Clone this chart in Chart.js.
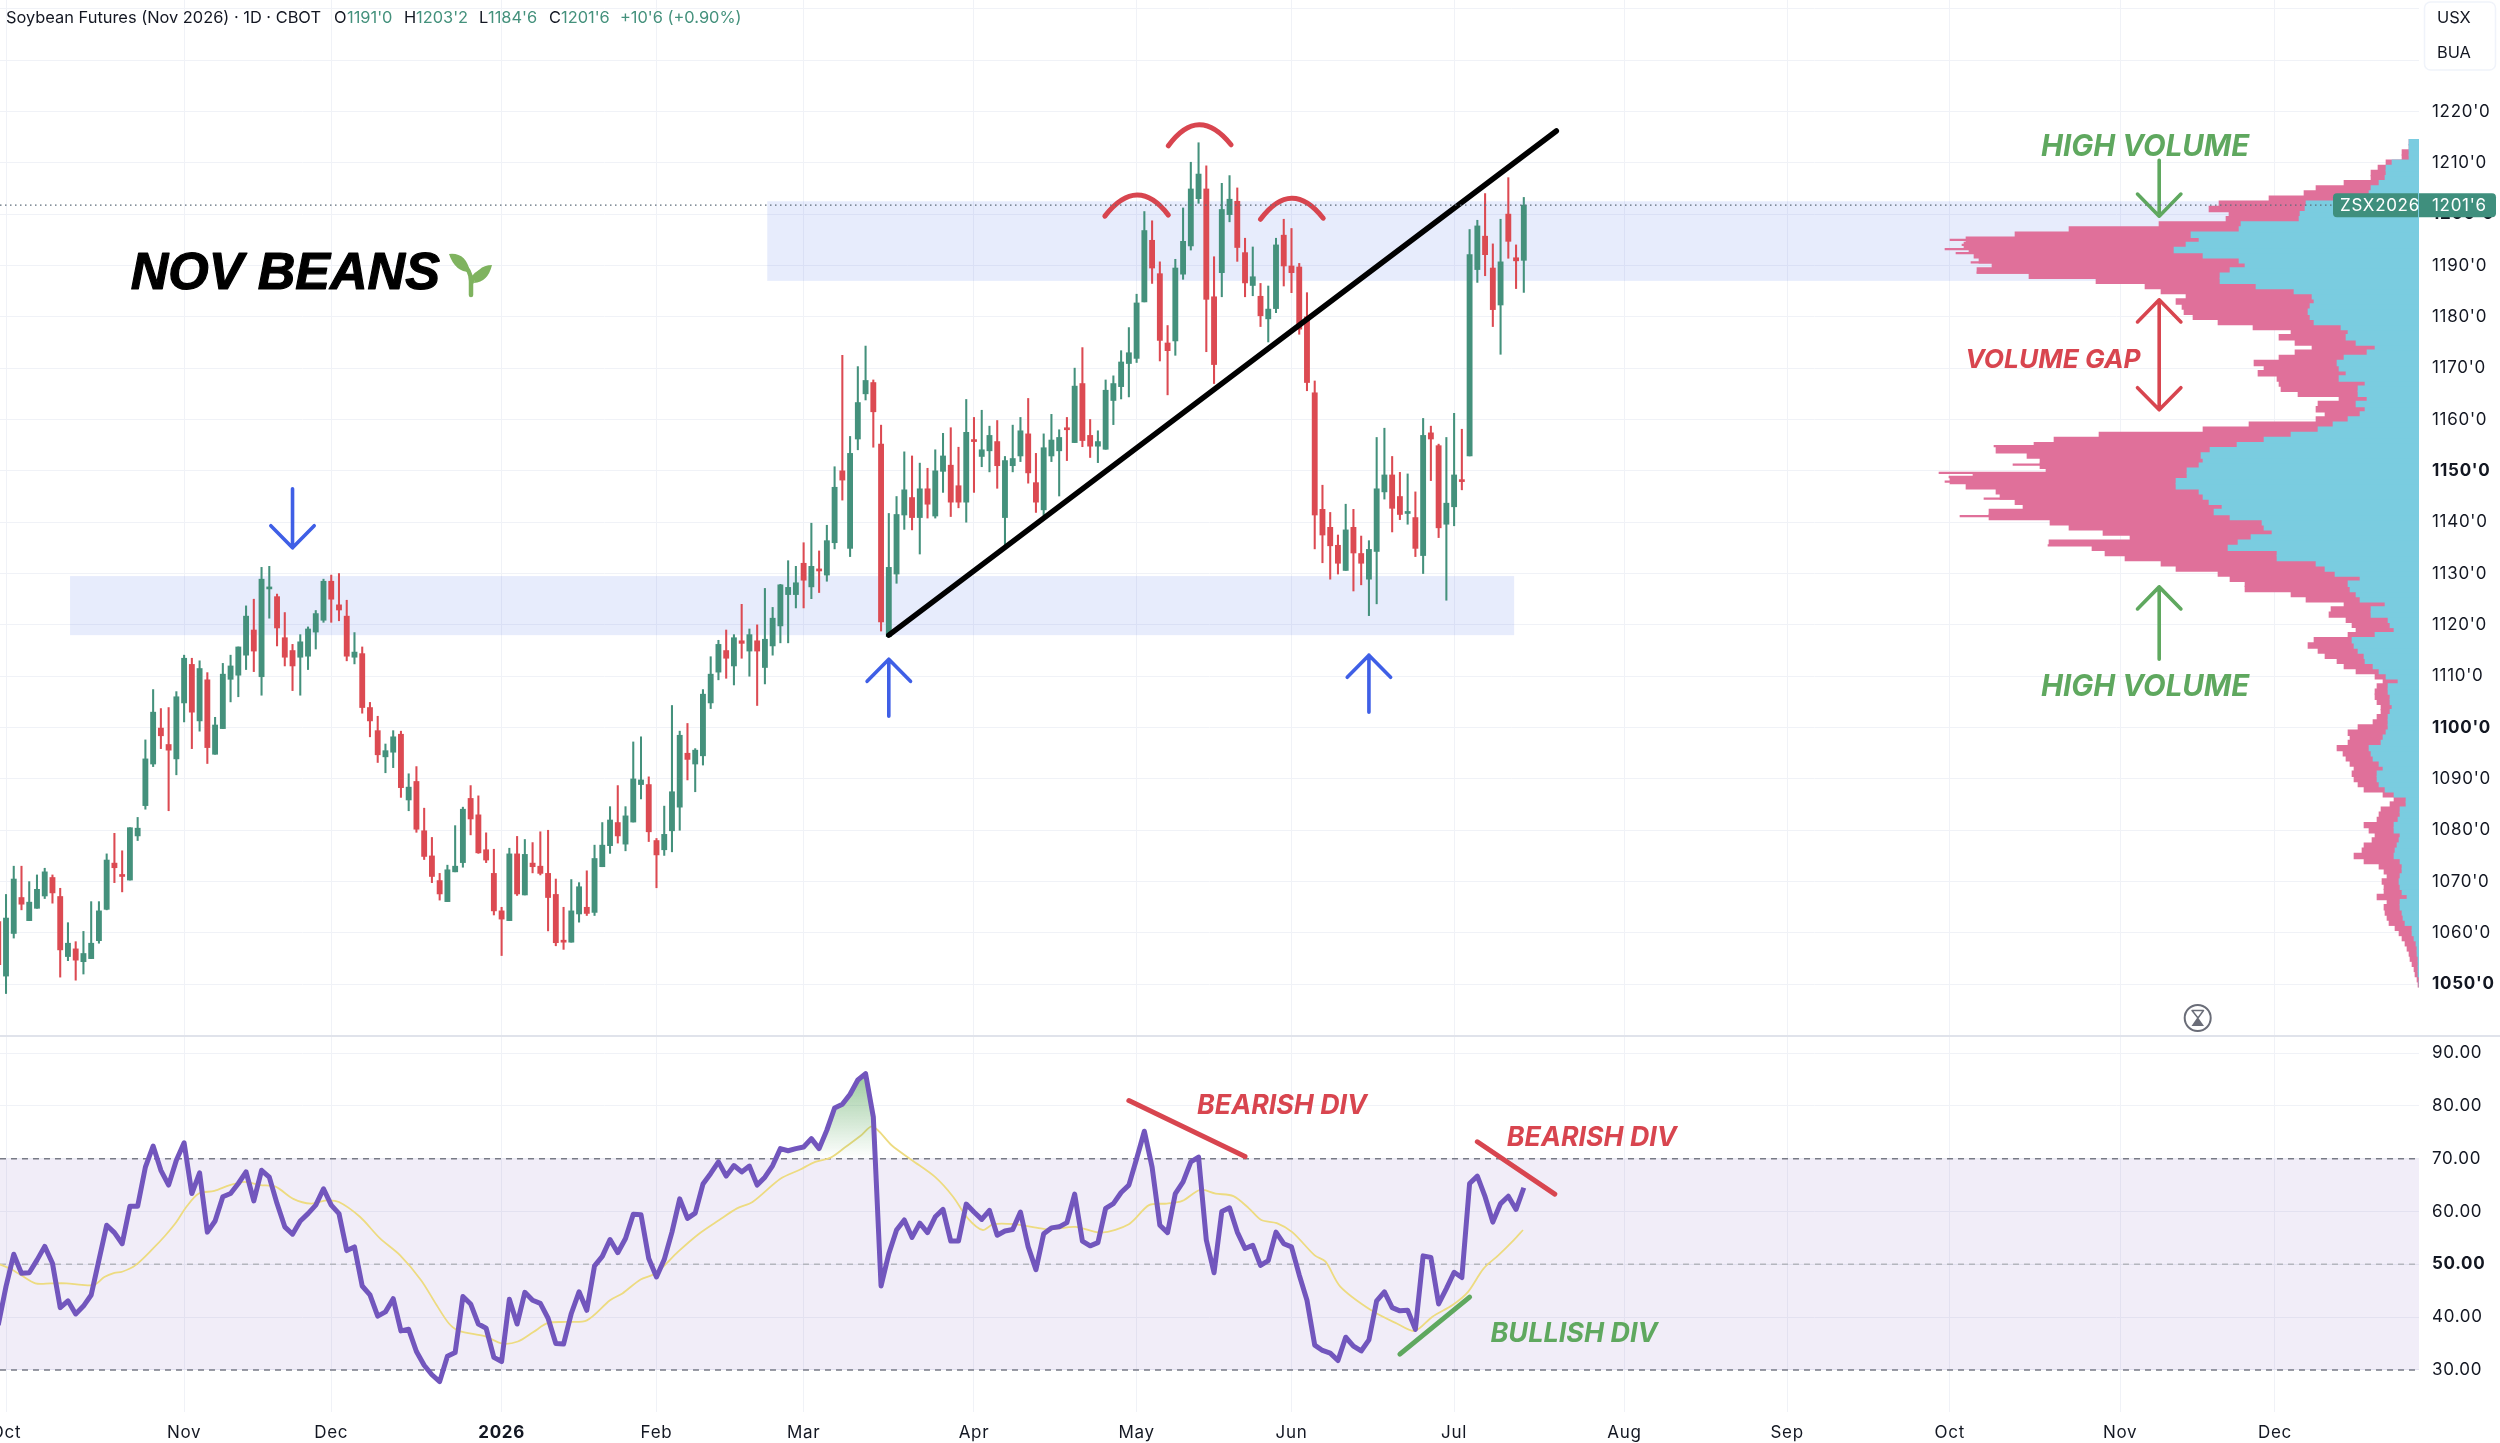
<!DOCTYPE html>
<html>
<head>
<meta charset="utf-8">
<title>Soybean Futures (Nov 2026)</title>
<script src="https://cdn.jsdelivr.net/npm/chart.js@4"></script>
<style>
  html, body { margin: 0; padding: 0; background: #fff; }
  canvas { display: block; }
</style>
</head>
<body>
<canvas id="grafico" width="2500" height="1443"></canvas>
<script>
// daily candles, first entry is the session before 1 Oct (bar -1)
const openPrices = [1062.2,
  1051.6,1059.9,1066.9,1062.4,1064.8,1067.2,1070.8,1067.1,1055.4,1056.9,
  1054.4,1055,1058.5,1064.6,1073.6,1071.1,1070.3,1078.9,1084.8,1092.9,
  1099.9,1096.7,1093.9,1104.8,1112.3,1101.3,1109.3,1094.8,1099.8,1109.4,
  1110.2,1114.1,1119,1109.9,1127,1125.5,1117.5,1115,1113.7,1113.9,
  1118.6,1120.9,1128.5,1123.9,1121.7,1113.7,1114.4,1103.9,1099.4,1094.3,
  1095.2,1098.7,1085.9,1089.5,1079.9,1075,1070.2,1066.1,1071.9,1073.7,
  1086.2,1083,1076.2,1071.6,1064.3,1062.4,1075.4,1067.4,1073.6,1073,
  1071.6,1067.5,1058.4,1058.2,1063.7,1065,1064,1072.9,1077,1081.5,
  1077.3,1081.6,1088.9,1088.9,1078,1076.2,1079.9,1084.5,1095,1092.9,
  1094.5,1104.8,1110.8,1115,1112,1116.9,1114.9,1116.9,1111.7,1115.9,
  1119.8,1125.9,1125.9,1132,1127.4,1130.9,1129.7,1136,1150,1134.9,
  1156.2,1165,1167.2,1155.2,1117.7,1129.9,1141.4,1144.8,1140.9,1146.5,
  1141.2,1149.9,1151.1,1147.1,1143.9,1155.9,1152.8,1153.9,1155.7,1140.9,
  1151,1152.9,1157.2,1147.7,1142.4,1152.9,1153.9,1158.1,1155.5,1167,
  1156.9,1154.8,1154.2,1163.7,1166.4,1170.9,1171.9,1182.9,1194.9,1188.4,
  1174.9,1175.3,1188.3,1193.8,1203,1204.9,1183.9,1188.6,1199.9,1202.5,
  1192.5,1186.1,1184,1179.6,1181.6,1195.9,1189.9,1189.7,1180,1165.2,
  1142.5,1139,1135.5,1130.6,1139,1133.9,1128.9,1134.3,1145.9,1149.2,
  1145,1141.7,1140.9,1133.5,1157.4,1154.9,1139.6,1143,1148.1,1152.9,
  1189.2,1195.7,1189.5,1182.3,1200,1191.5,1191];
const highPrices = [1065,
  1067.5,1073,1073,1070,1071.3,1072.6,1071.3,1068.7,1062,1058.3,
  1060.3,1066.1,1066.1,1075.4,1079.4,1076,1080.5,1082.5,1097.6,1107.4,
  1103.7,1103.9,1107,1114.1,1113.5,1113,1110.7,1102,1112.5,1114.1,
  1115.7,1123.7,1125,1131.2,1131.4,1126,1122.4,1116.2,1118.1,1119.6,
  1122.8,1128.9,1129.7,1130,1124.8,1118.5,1115.7,1104.9,1102.2,1096.8,
  1099.4,1099.3,1091,1092.4,1084.3,1078.6,1071.6,1073.2,1080.9,1084.5,
  1088.7,1086.7,1079.5,1076.3,1065,1076.5,1078.8,1078.2,1077.6,1079.7,
  1080,1070.5,1065,1070.4,1069.8,1072.1,1077.1,1081.5,1084.6,1088.7,
  1084.6,1097.2,1098.2,1090.4,1078.4,1084.7,1104.3,1099.3,1100.8,1095.9,
  1107.4,1113.8,1117,1119,1118.1,1124,1119.2,1120,1127.1,1123.4,
  1127.9,1132.5,1131.4,1136,1139.8,1134.4,1139.4,1150.8,1172.5,1156.7,
  1170.3,1174.3,1167.7,1158.9,1141.7,1145,1153.7,1152.9,1151.5,1150.5,
  1154.1,1157.3,1158.4,1154.6,1163.9,1160.4,1161.8,1158.7,1159.8,1152.8,
  1158.9,1160.4,1164.1,1153.4,1157.2,1161,1158,1160.4,1170,1174,
  1160,1157.8,1167.7,1168.5,1173.4,1177.9,1184.4,1200.5,1198.7,1190.7,
  1178.3,1191.2,1201.2,1210.1,1213.9,1209.4,1191.7,1206,1207.5,1205.1,
  1195.3,1193.6,1186.5,1186,1195.3,1199,1197.2,1190.4,1184.7,1167.5,
  1147.2,1141.9,1137.5,1143.5,1142.5,1137.3,1136.4,1156.5,1158.3,1152.8,
  1149.7,1149.4,1145.9,1160.2,1158.7,1155.2,1156.5,1161.2,1158.1,1197,
  1198.8,1204,1194.2,1199,1207.1,1194,1203.25];
const lowPrices = [1052,
  1048.2,1059,1064.5,1062.4,1064.8,1066.7,1065.8,1051.4,1054.6,1050.8,
  1052,1055,1058,1064.5,1069.8,1068,1070.3,1078,1084.1,1092.4,
  1095.9,1083.8,1090.8,1101.1,1095.9,1099.3,1093,1094.8,1099.8,1105,
  1106,1111.3,1110.9,1106.3,1121.3,1115.9,1112,1107.2,1106.3,1111.3,
  1115.3,1120.5,1120.5,1120.8,1113,1112.4,1102.8,1098.2,1093.2,1091.2,
  1092.2,1086.4,1083.8,1079.6,1074.3,1069.8,1066.4,1066.1,1071.9,1072.8,
  1079.1,1075.5,1073.7,1063.5,1055.6,1062.4,1067.3,1067.4,1071.7,1071.3,
  1060.4,1057.5,1056.8,1058.2,1062.1,1063.4,1063.4,1072.9,1075.5,1077.5,
  1076,1081.6,1086.1,1077.8,1068.8,1075.1,1075.8,1080,1089.8,1087.5,
  1092.7,1103.7,1109.3,1109.6,1108.3,1113.5,1110,1104.3,1108.5,1114.1,
  1116.5,1116.5,1123.3,1123.3,1125.1,1126.3,1128.5,1134.8,1144.3,1133.3,
  1154.1,1163.8,1154.6,1118.8,1117.7,1128.1,1138.6,1138.5,1133.8,1140.8,
  1140.8,1145.8,1141.1,1142.8,1140,1145.8,1150.8,1149.8,1146.6,1135,
  1149.8,1151.8,1147.6,1141.9,1141.1,1151.8,1145.1,1152,1155.5,1154.7,
  1152.6,1151.6,1154.2,1159,1164,1164.4,1171.1,1182.9,1186.5,1171.4,
  1164.8,1172.5,1187.3,1193,1202.1,1173.2,1167,1183.9,1198.5,1190.8,
  1183.9,1184.1,1178.1,1175.1,1180.8,1186,1184.7,1176.6,1165.6,1134.8,
  1132.1,1128.9,1129.9,1130.6,1126.6,1127.8,1121.8,1124.1,1144.5,1138.1,
  1140.5,1139.6,1133.3,1130,1148.1,1137,1124.8,1139.3,1146.3,1152.9,
  1186.7,1188,1178.1,1172.7,1191.4,1185.5,1184.75];
const closePrices = [1053.8,
  1062.9,1070.5,1065.6,1066,1068.5,1071.9,1067.8,1056.7,1058,1054.7,
  1056,1058,1064.3,1074.2,1072.7,1071,1080.5,1080.4,1093.9,1103,
  1098.4,1095.6,1106,1113.5,1103,1111.5,1096.1,1100.5,1110.4,1112,
  1115.7,1121.7,1114.9,1128.9,1127.1,1119.4,1113.7,1112,1116.7,1119.2,
  1122.2,1128.5,1125,1122.9,1113.9,1114.7,1103.9,1101.3,1094.7,1095.5,
  1098.2,1088.3,1088.4,1080.2,1074.9,1071,1067.6,1072.3,1073,1084.1,
  1082.2,1075.6,1074.2,1064.3,1062.7,1075.4,1067.6,1075.3,1072.9,1071.6,
  1066.9,1058.1,1058.2,1064.3,1069,1063.8,1074.5,1077.1,1082,1078.9,
  1082.8,1090,1089.8,1079.7,1075.2,1079.2,1087.5,1098.5,1093.8,1095.6,
  1106.5,1110.4,1116.2,1113.5,1117.5,1116.4,1118.1,1114.9,1117.2,1121.3,
  1127.8,1127.3,1128.2,1128.7,1131.4,1130.5,1136.4,1146.8,1148.2,1153.4,
  1163.3,1167.6,1161.5,1120.6,1131.2,1141.5,1146.3,1140.9,1146.5,1143.5,
  1150,1152.9,1143.9,1143.9,1157.5,1155.7,1154.1,1156.9,1151,1152,
  1152.4,1157.8,1149.6,1143.9,1154.5,1156,1156.5,1158,1166.5,1155.9,
  1154.8,1155.7,1165.7,1167,1171.2,1173,1182.7,1196.8,1189.5,1175.4,
  1173.4,1189.5,1194.7,1204.9,1207.8,1183.4,1170.7,1200.9,1202.9,1193.5,
  1186.6,1187.8,1180.2,1181.5,1194,1189.9,1188.6,1177.6,1167.2,1141.4,
  1137.5,1135.4,1132,1138.5,1134,1132,1134.7,1146.5,1149.2,1142.7,
  1141.5,1141.9,1134.9,1156.9,1156.2,1138.9,1143.7,1149.2,1147.9,1192.1,
  1197.7,1192.1,1181.4,1190.7,1194.7,1190.9,1201.75];

// RSI, same bars as the candles
const rsiValues = [38.5,
  45.8,51.9,48.3,48.4,50.8,53.4,50.2,41.8,43.1,40.6,
  42.1,44.2,50.8,57.4,56,53.9,61,61,68.4,72.4,
  67.8,65,69.7,73,63.4,67.3,56.1,58.2,62.8,63.4,
  65.3,67.5,62,67.8,66.5,61.5,57.1,55.7,58.2,59.6,
  61.2,64.3,61.2,59.6,52.6,53.3,45.9,44.2,40.2,41,
  43.5,37.4,37.7,33.5,30.9,29.1,27.8,32.6,33.3,43.9,
  42.5,38.7,37.9,32.4,31.6,43.4,38.7,44.7,43.2,42.6,
  39.8,35,34.9,40.7,44.8,41.3,49.7,51.5,54.7,52.2,
  54.9,59.5,59.4,51.1,47.6,50.9,56.1,62.4,58.7,59.7,
  65.2,67.2,69.4,66.7,68.7,67.5,68.6,65,66.5,68.7,
  71.9,71.5,71.9,72.2,73.8,71.9,75.4,79.6,80.3,82.2,
  84.9,86.1,77.9,45.9,52,56.5,58.4,55.1,57.8,56,
  59,60.4,54.4,54.4,61.4,59.9,58.5,60.2,55.5,56.3,
  56.6,59.9,53.3,49,55.8,56.9,57.1,57.9,63.3,54.4,
  53.5,54.1,60.6,61.5,63.6,65,70,75.2,68.4,57.4,
  56,63.4,65.6,69.4,70.3,54.6,48.4,60,60.7,56.1,
  53,53.6,49.8,50.7,56.1,53.9,53.3,48,43.2,34.7,
  33.7,33.2,31.8,36.2,34.5,33.6,35.7,43.1,44.8,41.8,
  41.2,41.3,37.7,51.6,51.3,42.5,45.4,48.5,47.5,65.3,
  66.7,62.8,58,61.5,62.9,60.4,64.5];

// RSI moving average, read at the bends of the yellow line
const rsiMaBars = [-0.8,0.5,1.9,3.8,5.8,7.8,9.8,11.4,12.7,14,15,16.7,19,20.6,22,23.3,24.9,26.9,28.9,30.8,
  32.8,34.8,37.1,39.4,41.4,43,45.7,48.3,50.9,53.6,55.6,57.2,58.5,61.8,64.1,66.1,68.1,70,72.3,75,
  78,79.6,81.9,83.9,86.8,89.5,92.1,94.4,96.4,100,102.5,104.5,106.5,108.4,110.4,111.9,114.4,117,120,122.3,
  124.2,126.1,127.5,130.2,132.8,134.8,138.1,141.4,145,147.6,149.9,151.9,154.2,156.2,158.5,160.5,162.1,164.1,166.1,169,
  170.4,172.3,176.3,179.6,181.9,184.2,186.8,188.8,190.8,192.7,194.7,195.9];
const rsiMaValues = [50,49.2,48,46.4,46.4,46.4,46.1,46.1,47.6,48.4,48.6,49.8,53,55.5,58,60.9,63.4,63.9,65,65.6,
  65,64.7,62.4,61.5,62.1,61.8,59,54.9,51.7,47,42.3,38.8,37.4,36.4,35,35.4,37.2,38.9,39.1,39.4,
  43.2,44.5,47.1,48.3,52.4,55.8,58.4,60.6,61.8,66.2,67.9,69.4,70.2,72.2,74.4,76.1,72.5,69.7,66.5,62.8,
  58.7,56.5,57.6,57.6,57,56.6,57.1,56,57.6,61.2,61.5,62,64.1,63.4,62.9,60.6,58.4,57.8,56.1,51.7,
  50.5,45.8,41.3,38.8,37.4,40.1,42.3,44.8,49.2,51.7,54.6,56.5];

// volume profile, one row per cent from 1050 up
const profileFirstPrice = 1050;
const profileBuy = [0,0,1,1,1,1,2,2,3,5,7,7,14,16,17,19,19,12,17,19,
  20,19,17,17,19,25,24,22,20,19,25,25,21,19,19,13,13,25,34,40,
  42,42,36,40,46,48,50,38,36,33,31,31,31,29,27,29,29,31,31,21,
  33,40,46,54,55,61,65,67,44,25,29,31,48,48,34,59,63,69,71,59,
  84,94,103,142,142,191,181,168,147,155,157,189,205,197,210,216,220,243,243,232,
  232,220,216,218,209,182,155,128,101,86,71,59,54,63,52,61,61,54,80,73,
  80,82,75,52,44,63,73,71,78,105,109,111,109,105,107,125,163,199,199,189,
  174,180,216,245,233,220,228,180,178,120,119,114,113,52,50,48,40,34,33,33,
  27,10,10,10,10];
const profileTotal = [1,2,4,5,7,9,10,12,14,17,20,24,30,32,34,35,32,42,35,35,
  37,32,35,40,55,65,57,55,47,44,50,55,42,40,38,29,25,36,55,61,
  65,67,65,69,73,76,82,71,69,71,61,46,42,38,38,42,44,44,42,36,
  44,63,75,82,94,101,111,105,71,63,67,73,90,88,75,113,128,174,174,189,
  201,243,258,294,314,327,370,289,316,350,369,430,430,396,404,419,423,453,469,446,
  373,379,379,392,423,385,365,320,216,170,103,94,103,101,80,121,138,140,142,161,
  155,165,140,124,107,124,140,128,166,201,226,235,237,243,233,258,274,323,390,442,
  427,440,445,450,455,453,404,350,260,193,190,210,200,150,115,103,75,48,48,41,
  33,17,17,10,10];
// thin spikes that stick out of the profile rows
const spikePrices = [1195,1194,1193.2,1192.4,1190.6,1188.6,1154.8,1151.2,1149.6,1148.8,1147.9,1146.8,1144.6,1141.2,1135.5];
const spikeTotals = [469,457,474,463,448,442,425,406,480,470,474,451,435,459,371];

const priceTicks = [1050,1060,1070,1080,1090,1100,1110,1120,1130,1140,1150,1160,1170,1180,1190,1200,1210,1220,1230,1240];
const priceTicksBold = [1050,1100,1150,1200];
const rsiTicks = [30,40,50,60,70,80,90];
const monthBars = [0,23,42,64,84,103,125,146,166,187,209,230,251,273,293];
const monthLabels = ['Oct','Nov','Dec','2026','Feb','Mar','Apr','May','Jun','Jul','Aug','Sep','Oct','Nov','Dec'];

const verde = '#44917c', rojo = '#dc4a52', azul = '#3f5fe6';
const notaVerde = '#5fa85f', notaRoja = '#d8454f';
const fuente = 'Inter, "Noto Sans", sans-serif';

const bars = openPrices.map((_, i) => i - 1);
const barColor = i => closePrices[i] >= openPrices[i] ? verde : rojo;
const priceLabel = v => Math.floor(v) + "'" + Math.round((v - Math.floor(v)) * 8);
const tickFont = isBold => c => ({ family: fuente, size: 17, weight: c.tick && isBold(c.tick.value) ? '700' : '400' });
const sinMargen = s => { s.width = 81; s.paddingTop = 0; s.paddingBottom = 0; };

// zones and drawn marks, in bar / price (or bar / rsi) units
const zones = [
  { from: 98.3, to: 320, top: 1202.5, bottom: 1187 },
  { from: 8.27, to: 194.75, top: 1129.5, bottom: 1118 }
];
const trendLines = [
  { axis: 'y', color: '#000', width: 5.5, a: [114, 1118], b: [200.2, 1216.2] },
  { axis: 'rsi', color: notaRoja, width: 5, a: [145, 81], b: [160, 70.4] },
  { axis: 'rsi', color: notaRoja, width: 5, a: [190, 73.2], b: [200, 63.3] },
  { axis: 'rsi', color: notaVerde, width: 5, a: [180, 33], b: [189, 43.8] }
];
const arcs = [
  { a: [141.9, 1199.6], top: [146.1, 1203.7], b: [150.1, 1199.8] },
  { a: [150.1, 1213.3], top: [154, 1217.4], b: [158.2, 1213.5] },
  { a: [162, 1199], top: [166, 1203.1], b: [170.1, 1199.2] }
];
const arrows = [
  { bar: 37, tip: 1135, tail: 1146.5, color: azul },
  { bar: 114, tip: 1113.3, tail: 1102.2, color: azul },
  { bar: 176, tip: 1114.1, tail: 1103, color: azul },
  { bar: 278.05, tip: 1199.6, tail: 1210.5, color: notaVerde },
  { bar: 278.05, tip: 1127.4, tail: 1113.3, color: notaVerde },
  { bar: 278.05, tip: 1183.3, tail: 1161.9, color: notaRoja, both: true }
];
const notes = [
  { text: 'NOV BEANS', bar: 16.1, val: 1188.2, axis: 'y', color: '#000', font: 'italic 700 52px "Liberation Sans"', heavy: true },
  { text: 'HIGH VOLUME', bar: 262.8, val: 1213, axis: 'y', color: notaVerde, font: 'italic 700 29.4px ' + fuente },
  { text: 'HIGH VOLUME', bar: 262.8, val: 1107.9, axis: 'y', color: notaVerde, font: 'italic 700 29.4px ' + fuente },
  { text: 'VOLUME GAP', bar: 253, val: 1171.6, axis: 'y', color: notaRoja, font: 'italic 700 26.3px ' + fuente },
  { text: 'BEARISH DIV', bar: 153.8, val: 80, axis: 'rsi', color: notaRoja, font: 'italic 700 26.8px ' + fuente },
  { text: 'BEARISH DIV', bar: 193.8, val: 73.9, axis: 'rsi', color: notaRoja, font: 'italic 700 26.8px ' + fuente },
  { text: 'BULLISH DIV', bar: 191.7, val: 36.8, axis: 'rsi', color: notaVerde, font: 'italic 700 27px ' + fuente }
];
const headerParts = [
  { text: "Soybean Futures (Nov 2026) · 1D · CBOT", x: 6, color: '#131722' },
  { text: 'O', x: 334, color: '#131722' }, { text: "1191'0", x: 347, color: verde },
  { text: 'H', x: 404, color: '#131722' }, { text: "1203'2", x: 416, color: verde },
  { text: 'L', x: 479, color: '#131722' }, { text: "1184'6", x: 488, color: verde },
  { text: 'C', x: 549, color: '#131722' }, { text: "1201'6", x: 561, color: verde },
  { text: "+10'6 (+0.90%)", x: 620, color: verde }
];

// zonas y banda del RSI, debajo de las velas
const fondo = {
  id: 'fondo',
  beforeDraw(chart) {
    chart.ctx.letterSpacing = '0.7px';
  },
  beforeDatasetsDraw(chart) {
    const { ctx, chartArea, scales } = chart;
    const { x, y, rsi } = scales;
    ctx.save();
    ctx.fillStyle = 'rgba(61,105,235,0.125)';
    zones.forEach(z => {
      ctx.fillRect(x.getPixelForValue(z.from), y.getPixelForValue(z.top),
        Math.min(x.getPixelForValue(z.to), chartArea.right) - x.getPixelForValue(z.from),
        y.getPixelForValue(z.bottom) - y.getPixelForValue(z.top));
    });
    ctx.fillStyle = 'rgba(126,87,194,0.11)';
    ctx.fillRect(0, rsi.getPixelForValue(70), chartArea.right, rsi.getPixelForValue(30) - rsi.getPixelForValue(70));
    ctx.lineWidth = 1.5;
    ctx.setLineDash([6, 5]);
    [[70, '#787b86'], [50, '#b4b6be'], [30, '#787b86']].forEach(([v, c]) => {
      ctx.strokeStyle = c;
      ctx.beginPath();
      ctx.moveTo(0, rsi.getPixelForValue(v));
      ctx.lineTo(chartArea.right, rsi.getPixelForValue(v));
      ctx.stroke();
    });
    ctx.restore();
  }
};

function flecha(ctx, x, y, tip, tail, both) {
  const head = 4.3, half = 21.7;
  const dir = tail > tip ? 1 : -1;
  const top = v => y.getPixelForValue(v);
  const cab = t => {
    ctx.moveTo(x - half, top(t + dir * head));
    ctx.lineTo(x, top(t));
    ctx.lineTo(x + half, top(t + dir * head));
  };
  ctx.beginPath();
  ctx.moveTo(x, top(tip));
  ctx.lineTo(x, top(tail));
  cab(tip);
  if (both) {
    ctx.moveTo(x - half, top(tail - dir * head));
    ctx.lineTo(x, top(tail));
    ctx.lineTo(x + half, top(tail - dir * head));
  }
  ctx.stroke();
}

// dibujos y textos encima de todo
const notas = {
  id: 'notas',
  afterLayout(chart) {
    const rsi = chart.scales.rsi;
    const g = chart.ctx.createLinearGradient(0, rsi.getPixelForValue(86), 0, rsi.getPixelForValue(70));
    g.addColorStop(0, 'rgba(76,160,80,0.55)');
    g.addColorStop(1, 'rgba(76,160,80,0)');
    chart.data.datasets[0].fill.above = g;
  },
  afterDatasetsDraw(chart) {
    const { ctx, chartArea, scales } = chart;
    const { x, y } = scales;
    ctx.save();
    ctx.letterSpacing = '0px';
    ctx.lineCap = 'round';
    ctx.lineJoin = 'round';

    trendLines.forEach(t => {
      const s = scales[t.axis];
      ctx.strokeStyle = t.color;
      ctx.lineWidth = t.width;
      ctx.beginPath();
      ctx.moveTo(x.getPixelForValue(t.a[0]), s.getPixelForValue(t.a[1]));
      ctx.lineTo(x.getPixelForValue(t.b[0]), s.getPixelForValue(t.b[1]));
      ctx.stroke();
    });

    ctx.strokeStyle = notaRoja;
    ctx.lineWidth = 5;
    arcs.forEach(a => {
      const ax = x.getPixelForValue(a.a[0]), ay = y.getPixelForValue(a.a[1]);
      const bx = x.getPixelForValue(a.b[0]), by = y.getPixelForValue(a.b[1]);
      const ty = y.getPixelForValue(a.top[1]), tx = x.getPixelForValue(a.top[0]);
      ctx.beginPath();
      ctx.moveTo(ax, ay);
      ctx.quadraticCurveTo(tx, 2 * ty - (ay + by) / 2, bx, by);
      ctx.stroke();
    });

    ctx.lineWidth = 3.6;
    arrows.forEach(f => {
      ctx.strokeStyle = f.color;
      flecha(ctx, x.getPixelForValue(f.bar), y, f.tip, f.tail, f.both);
    });

    // brote junto al titulo
    ctx.fillStyle = ctx.strokeStyle = '#7fb35f';
    ctx.lineWidth = 4.5;
    ctx.beginPath();
    ctx.moveTo(471, 295);
    ctx.lineTo(471, 281);
    ctx.quadraticCurveTo(471, 270, 462, 264);
    ctx.moveTo(471, 284);
    ctx.quadraticCurveTo(473, 276, 480, 272);
    ctx.stroke();
    ctx.beginPath();
    ctx.moveTo(449, 254);
    ctx.quadraticCurveTo(466, 252, 470, 272);
    ctx.quadraticCurveTo(455, 272, 449, 254);
    ctx.moveTo(492, 265);
    ctx.quadraticCurveTo(476, 265, 474, 283);
    ctx.quadraticCurveTo(488, 282, 492, 265);
    ctx.fill();

    ctx.textBaseline = 'middle';
    ctx.textAlign = 'left';
    notes.forEach(n => {
      ctx.fillStyle = n.color;
      ctx.font = n.font;
      const tx = x.getPixelForValue(n.bar), ty = scales[n.axis].getPixelForValue(n.val);
      if (n.heavy) {
        ctx.strokeStyle = n.color;
        ctx.lineWidth = 1.2;
        ctx.strokeText(n.text, tx, ty);
      }
      ctx.fillText(n.text, tx, ty);
    });

    // ultimo precio
    const lastClose = closePrices[closePrices.length - 1];
    const yLast = y.getPixelForValue(lastClose);
    ctx.strokeStyle = '#5c6b78';
    ctx.lineWidth = 1.4;
    ctx.lineCap = 'butt';
    ctx.setLineDash([1.5, 3.5]);
    ctx.beginPath();
    ctx.moveTo(0, yLast);
    ctx.lineTo(2333, yLast);
    ctx.stroke();
    ctx.setLineDash([]);
    ctx.fillStyle = '#3f8f7d';
    ctx.beginPath();
    ctx.roundRect(2333, yLast - 12, 85, 24, [4, 0, 0, 4]);
    ctx.fill();
    ctx.beginPath();
    ctx.roundRect(2419, yLast - 12, 77, 24, [0, 4, 4, 0]);
    ctx.fill();
    ctx.fillStyle = '#fff';
    ctx.letterSpacing = '0.7px';
    ctx.font = '17px ' + fuente;
    ctx.fillText('ZSX2026', 2340, yLast + 1);
    ctx.fillText(priceLabel(lastClose), 2432, yLast + 1);

    // separador de paneles
    ctx.strokeStyle = '#e0e3eb';
    ctx.lineWidth = 2;
    ctx.beginPath();
    ctx.moveTo(0, y.bottom);
    ctx.lineTo(2500, y.bottom);
    ctx.stroke();

    // cabecera
    ctx.letterSpacing = '0px';
    ctx.font = '16.4px ' + fuente;
    headerParts.forEach(p => {
      ctx.fillStyle = p.color;
      ctx.fillText(p.text, p.x, 18);
    });

    // USX / BUA
    ctx.strokeStyle = '#f0f3fa';
    ctx.lineWidth = 1.5;
    ctx.beginPath();
    ctx.roundRect(2424.5, 2, 71, 68, 6);
    ctx.stroke();
    ctx.fillStyle = '#131722';
    ctx.fillText('USX', 2437, 18);
    ctx.fillText('BUA', 2437, 53);

    // reloj de arena
    ctx.strokeStyle = '#6a6d78';
    ctx.fillStyle = '#6a6d78';
    ctx.lineWidth = 2;
    ctx.beginPath();
    ctx.arc(2197.7, 1018, 13, 0, Math.PI * 2);
    ctx.stroke();
    ctx.lineWidth = 1.5;
    ctx.beginPath();
    ctx.moveTo(2192, 1010.5); ctx.lineTo(2203.5, 1010.5); ctx.lineTo(2198, 1018); ctx.closePath();
    ctx.stroke();
    ctx.beginPath();
    ctx.moveTo(2197.7, 1017); ctx.lineTo(2204, 1026); ctx.lineTo(2191.5, 1026); ctx.closePath();
    ctx.fill();
    ctx.restore();
  }
};

new Chart(document.getElementById('grafico').getContext('2d'), {
  type: 'bar',
  data: {
    datasets: [
      {
        type: 'line',
        data: bars.map((b, i) => ({ x: b, y: rsiValues[i] })),
        yAxisID: 'rsi',
        borderColor: '#7256bd',
        borderWidth: 5,
        borderJoinStyle: 'round',
        pointRadius: 0,
        tension: 0,
        fill: { target: { value: 70 }, above: 'rgba(76,160,80,0.3)', below: 'rgba(0,0,0,0)' },
        order: 1
      },
      {
        type: 'line',
        data: rsiMaBars.map((b, i) => ({ x: b, y: rsiMaValues[i] })),
        yAxisID: 'rsi',
        borderColor: '#eddb80',
        borderWidth: 1.8,
        pointRadius: 0,
        tension: 0.3,
        order: 2
      },
      {
        data: bars.map((b, i) => ({ x: b, y: [openPrices[i], closePrices[i]] })),
        backgroundColor: ctx => barColor(ctx.dataIndex),
        barThickness: 5.2,
        minBarLength: 2,
        grouped: false,
        order: 3
      },
      {
        data: bars.map((b, i) => ({ x: b, y: [lowPrices[i], highPrices[i]] })),
        backgroundColor: ctx => barColor(ctx.dataIndex),
        barThickness: 1.4,
        grouped: false,
        order: 4
      },
      {
        indexAxis: 'y',
        xAxisID: 'vol',
        data: profileBuy.map((v, i) => ({ x: v, y: profileFirstPrice + i })),
        backgroundColor: '#7acce0',
        barThickness: 5.8,
        grouped: false,
        order: 5
      },
      {
        indexAxis: 'y',
        xAxisID: 'vol',
        data: profileTotal.map((v, i) => ({ x: v, y: profileFirstPrice + i })),
        backgroundColor: '#e0709a',
        barThickness: 5.8,
        grouped: false,
        order: 6
      },
      {
        indexAxis: 'y',
        xAxisID: 'vol',
        data: spikeTotals.map((v, i) => ({ x: v, y: spikePrices[i] })),
        backgroundColor: '#e0709a',
        barThickness: 1.6,
        grouped: false,
        order: 7
      }
    ]
  },
  options: {
    responsive: false,
    animation: false,
    devicePixelRatio: 1,
    layout: { padding: 0 },
    plugins: { legend: { display: false }, tooltip: { enabled: false } },
    scales: {
      x: {
        type: 'linear',
        offset: false,
        min: -0.775,
        max: 311.6,
        grid: { color: '#f0f2f7', offset: false, drawTicks: false },
        border: { display: false },
        afterBuildTicks: s => { s.ticks = monthBars.map(v => ({ value: v })); },
        afterFit: s => { s.height = 31; s.paddingLeft = 0; s.paddingRight = 0; },
        ticks: {
          autoSkip: false,
          maxRotation: 0,
          padding: 11,
          color: '#131722',
          callback: v => monthLabels[monthBars.indexOf(v)],
          font: tickFont(v => monthLabels[monthBars.indexOf(v)] === '2026')
        }
      },
      vol: {
        type: 'linear',
        axis: 'x',
        display: false,
        offset: false,
        reverse: true,
        min: 0,
        max: 2419
      },
      y: {
        type: 'linear',
        position: 'right',
        stack: 'paneles',
        stackWeight: 1036,
        offset: false,
        min: 1039.93,
        max: 1241.7,
        grid: { color: '#f0f2f7', offset: false, drawTicks: false },
        border: { display: false },
        afterBuildTicks: s => { s.ticks = priceTicks.map(v => ({ value: v })); },
        afterFit: sinMargen,
        ticks: {
          autoSkip: false,
          padding: 13,
          color: '#131722',
          callback: v => v > 1220 ? '' : v + "'0",
          font: tickFont(v => priceTicksBold.includes(v))
        }
      },
      rsi: {
        type: 'linear',
        position: 'right',
        stack: 'paneles',
        stackWeight: 376,
        offset: false,
        min: 22.05,
        max: 93.22,
        grid: { color: '#f0f2f7', offset: false, drawTicks: false },
        border: { display: false },
        afterBuildTicks: s => { s.ticks = rsiTicks.map(v => ({ value: v })); },
        afterFit: sinMargen,
        ticks: {
          autoSkip: false,
          padding: 13,
          color: '#131722',
          callback: v => v.toFixed(2),
          font: tickFont(v => v === 50)
        }
      }
    }
  },
  plugins: [fondo, notas]
});
</script>
</body>
</html>
